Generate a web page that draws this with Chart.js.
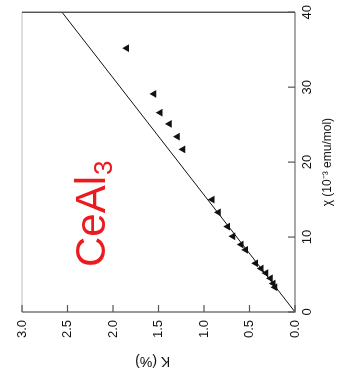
<!DOCTYPE html>
<html>
<head>
<meta charset="utf-8">
<script src="https://cdn.jsdelivr.net/npm/chart.js@4.4.0/dist/chart.umd.min.js"></script>
<style>
html, body { margin: 0; padding: 0; background: #fff; overflow: hidden; width: 339px; height: 375px; }
/* the figure is drawn upright, then turned a quarter turn counter-clockwise */
#wrap { position: absolute; left: 0; top: 0; width: 375px; height: 339px;
        transform-origin: 0 0; transform: translate(0, 375px) rotate(-90deg); }
</style>
</head>
<body>
<div id="wrap"><canvas id="chart" width="375" height="339"></canvas></div>
<script>
'use strict';

// ── dados ───────────────────────────────────────────────────────────────────
const CHI    = [35.2, 29.1, 26.6, 25.1, 23.4, 21.7, 15.0, 13.3, 11.4, 10.1, 9.0, 8.3, 6.5, 5.8, 5.2, 4.5, 3.8, 3.3];
const KSHIFT = [1.85, 1.55, 1.48, 1.38, 1.29, 1.23, 0.91, 0.84, 0.74, 0.68, 0.59, 0.54, 0.43, 0.37, 0.32, 0.27, 0.24, 0.22];

const FIT_CHI = [0, 40];
const FIT_K   = [0, 2.56];

const CHI_TICKS = [0, 10, 20, 30, 40];
const K_TICKS   = [0, 0.5, 1.0, 1.5, 2.0, 2.5, 3.0];

const SAMPLE      = 'CeAl';
const SAMPLE_SUB  = '3';
const SAMPLE_AT   = { chi: 6.0, k: 2.09 };

// ── paleta ──────────────────────────────────────────────────────────────────
const COLOR_INK   = '#111';
const COLOR_TEXT  = '#111';
const COLOR_AXIS  = '#555';
const COLOR_FAINT = '#bbb';
const COLOR_RED   = '#ec1a1f';
const FONT        = 'Liberation Sans';

// ── ticks para dentro + moldura + rótulo ────────────────────────────────────
const framePlugin = {
    id: 'frame',
    afterDraw(chart) {
        const { ctx, chartArea: a, scales: { x, y } } = chart;
        ctx.save();
        ctx.lineWidth = 1.2;

        // moldura
        ctx.strokeStyle = COLOR_FAINT;
        ctx.beginPath(); ctx.moveTo(a.left, a.top); ctx.lineTo(a.right, a.top); ctx.stroke();
        ctx.strokeStyle = '#333';
        ctx.beginPath(); ctx.moveTo(a.right, a.top); ctx.lineTo(a.right, a.bottom); ctx.stroke();
        ctx.strokeStyle = COLOR_AXIS;
        ctx.beginPath(); ctx.moveTo(a.left, a.top); ctx.lineTo(a.left, a.bottom); ctx.lineTo(a.right, a.bottom); ctx.stroke();

        // ticks
        CHI_TICKS.forEach(v => {
            const px = x.getPixelForValue(v);
            ctx.beginPath(); ctx.moveTo(px, a.bottom); ctx.lineTo(px, a.bottom - 7); ctx.stroke();
        });
        K_TICKS.forEach(v => {
            const py = y.getPixelForValue(v);
            ctx.beginPath(); ctx.moveTo(a.left, py); ctx.lineTo(a.left + 7, py); ctx.stroke();
        });

        // CeAl3
        const tx = x.getPixelForValue(SAMPLE_AT.chi);
        const ty = y.getPixelForValue(SAMPLE_AT.k);
        ctx.fillStyle = COLOR_RED;
        ctx.textBaseline = 'alphabetic';
        ctx.font = `42px "${FONT}"`;
        ctx.fillText(SAMPLE, tx, ty);
        const w = ctx.measureText(SAMPLE).width;
        ctx.font = `26px "${FONT}"`;
        ctx.fillText(SAMPLE_SUB, tx + w + 1, ty + 7);
        ctx.restore();
    },
};

// ── gráfico ─────────────────────────────────────────────────────────────────
new Chart(document.getElementById('chart'), {
    type: 'scatter',
    data: {
        datasets: [
            {
                label: 'ajuste',
                data: FIT_CHI.map((c, i) => ({ x: c, y: FIT_K[i] })),
                showLine: true,
                borderColor: COLOR_INK,
                borderWidth: 1,
                pointRadius: 0,
                order: 2,
            },
            {
                label: 'CeAl3',
                data: CHI.map((c, i) => ({ x: c, y: KSHIFT[i] })),
                pointStyle: 'triangle',
                pointRadius: 4.5,
                backgroundColor: COLOR_INK,
                borderColor: COLOR_INK,
                borderWidth: 0,
                order: 1,
            },
        ],
    },
    options: {
        responsive: false,
        animation: false,
        layout: { padding: { top: 22, right: 11, left: 0, bottom: 0 } },
        plugins: { legend: { display: false }, tooltip: { enabled: false } },
        scales: {
            x: {
                type: 'linear',
                min: 0, max: 40,
                afterBuildTicks: s => { s.ticks = CHI_TICKS.map(v => ({ value: v })); },
                afterFit: s => { s.height = 44; },
                grid: { display: false, drawTicks: false },
                border: { display: false },
                ticks: { color: COLOR_TEXT, padding: 5, font: { family: FONT, size: 13 }, callback: v => String(v) },
                title: {
                    display: true,
                    text: 'χ (10⁻³ emu/mol)',
                    color: COLOR_TEXT,
                    font: { family: FONT, size: 12 },
                    padding: { top: 0, bottom: 4 },
                },
            },
            y: {
                type: 'linear',
                min: 0, max: 3.0,
                afterBuildTicks: s => { s.ticks = K_TICKS.map(v => ({ value: v })); },
                afterFit: s => { s.width = 63; },
                grid: { display: false, drawTicks: false },
                border: { display: false },
                ticks: { color: COLOR_TEXT, padding: 8, font: { family: FONT, size: 13 }, callback: v => v.toFixed(1) },
                title: {
                    display: true,
                    text: '   K (%)',
                    color: COLOR_TEXT,
                    font: { family: FONT, size: 14 },
                    padding: { top: 6, bottom: 0 },
                },
            },
        },
    },
    plugins: [framePlugin],
});
</script>
</body>
</html>
